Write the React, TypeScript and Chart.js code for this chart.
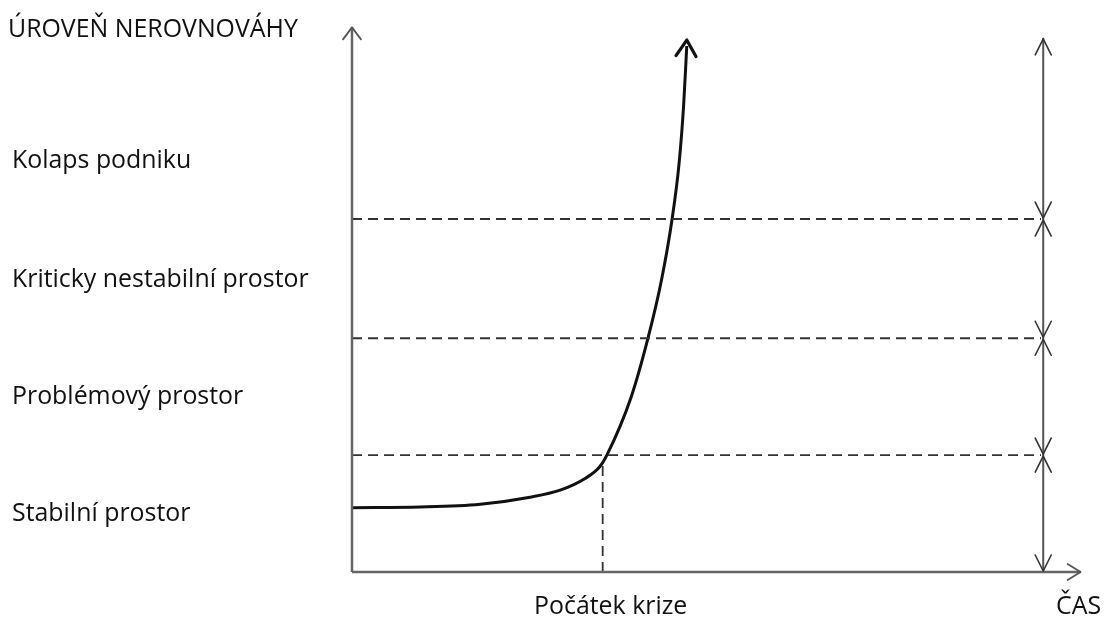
import React, { useEffect, useRef } from "react";
import { Chart, registerables } from "chart.js";
Chart.register(...registerables);

// Time (x) and imbalance level (y) of the crisis curve
const timeX = [0, 0.93, 1.75, 2.43, 2.84, 3.18, 3.38, 3.477, 3.81, 4.038, 4.223, 4.367, 4.463, 4.525, 4.567];
const imbalance = [0.55, 0.556, 0.58, 0.64, 0.7, 0.8, 0.9, 1.0, 1.5, 2.0, 2.5, 3.02, 3.5, 4.0, 4.5];

// Level thresholds (dashed lines)
const thresholds = [1, 2, 3.02];
const levelLabels = ["Stabilní prostor", "Problémový prostor", "Kriticky nestabilní prostor", "Kolaps podniku"];
const levelLabelY = [0.5, 1.5, 2.5, 3.52];
const bracketLevels = [0, 1, 2, 3.02, 4.57];

const yTitle = "ÚROVEŇ NEROVNOVÁHY";
const xTitle = "ČAS";
const crisisLabel = "Počátek krize";
const crisisX = 3.42;
const crisisY = 0.94;

const X_MAX = 10;
const Y_MAX = 4.68;
const thresholdEnd = 9.4;
const bracketX = 9.43;
const xAxisEnd = 9.94;
const yAxisEnd = 4.66;
const titleY = 4.64;

function seg(x1: number, y1: number, x2: number, y2: number) {
  return [{ x: x1, y: y1 }, { x: x2, y: y2 }];
}

function openArrow(ctx: CanvasRenderingContext2D, tx: number, ty: number, angle: number, len: number, half: number, color: string, lw: number) {
  const bx = tx - Math.cos(angle) * len;
  const by = ty - Math.sin(angle) * len;
  const px = -Math.sin(angle) * half;
  const py = Math.cos(angle) * half;
  ctx.save();
  ctx.strokeStyle = color;
  ctx.lineWidth = lw;
  ctx.lineCap = "round";
  ctx.lineJoin = "round";
  ctx.beginPath();
  ctx.moveTo(bx + px, by + py);
  ctx.lineTo(tx, ty);
  ctx.lineTo(bx - px, by - py);
  ctx.stroke();
  ctx.restore();
}

const decorPlugin = {
  id: "decor",
  afterDatasetsDraw(chart: any) {
    const ctx: CanvasRenderingContext2D = chart.ctx;
    const xs = chart.scales.x;
    const ys = chart.scales.y;
    const X = (v: number) => xs.getPixelForValue(v);
    const Y = (v: number) => ys.getPixelForValue(v);
    const axisColor = "#555";

    // axis arrows
    openArrow(ctx, X(0), Y(yAxisEnd), -Math.PI / 2, 12, 9, axisColor, 1.8);
    openArrow(ctx, X(xAxisEnd), Y(0), 0, 13, 8, axisColor, 1.8);

    // bracket arrows
    for (let i = 0; i < bracketLevels.length - 1; i++) {
      const lo = bracketLevels[i];
      const hi = bracketLevels[i + 1];
      openArrow(ctx, X(bracketX), Y(hi) + 1, -Math.PI / 2, 16, 8, "#333", 1.6);
      openArrow(ctx, X(bracketX), Y(lo) - 1, Math.PI / 2, 16, 8, "#333", 1.6);
    }

    // curve arrowhead
    const n = timeX.length;
    const tx = X(timeX[n - 1]);
    const ty = Y(imbalance[n - 1]) - 6;
    const ang = Math.atan2(ty - Y(imbalance[n - 2]), tx - X(timeX[n - 2]));
    openArrow(ctx, tx, ty, ang, 16, 10, "#111", 3.2);

    // text
    ctx.save();
    const family = "'Open Sans', 'Noto Sans', sans-serif";
    ctx.font = `100px ${family}`;
    const w100 = ctx.measureText(yTitle).width;
    const size = Math.round(((100 * 290) / w100) * 10) / 10;
    ctx.font = `${size}px ${family}`;
    ctx.fillStyle = "#111";
    ctx.textBaseline = "middle";
    ctx.textAlign = "left";
    ctx.fillText(yTitle, 8, Y(titleY));
    levelLabels.forEach((t, i) => ctx.fillText(t, 12, Y(levelLabelY[i])));
    ctx.textAlign = "center";
    ctx.fillText(crisisLabel, X(crisisX) + 8, Y(0) + 35);
    ctx.fillText(xTitle, X(xAxisEnd) - 2, Y(0) + 35);
    ctx.restore();
  },
};

export default function App() {
  const ref = useRef<HTMLCanvasElement>(null);
  useEffect(() => {
    if (!ref.current) return;
    const dashed = { borderColor: "#333", borderWidth: 1.8, borderDash: [10, 6], pointRadius: 0, clip: false as any };
    const solidAxis = { borderColor: "#666", borderWidth: 2.5, pointRadius: 0, clip: false as any };
    const bracket = { borderColor: "#555", borderWidth: 2, pointRadius: 0, clip: false as any };
    const datasets: any[] = [
      { data: seg(0, 0, 0, yAxisEnd), ...solidAxis },
      { data: seg(0, 0, xAxisEnd, 0), ...solidAxis },
      ...thresholds.map((t) => ({ data: seg(0, t, thresholdEnd, t), ...dashed })),
      { data: seg(crisisX, 0, crisisX, crisisY), ...dashed },
      { data: seg(bracketX, bracketLevels[0], bracketX, bracketLevels[bracketLevels.length - 1]), ...bracket },
      {
        data: timeX.map((x, i) => ({ x, y: imbalance[i] })),
        borderColor: "#111",
        borderWidth: 3,
        pointRadius: 0,
        cubicInterpolationMode: "monotone",
        clip: false,
      },
    ];
    const chart = new Chart(ref.current, {
      type: "line",
      data: { datasets },
      options: {
        animation: false,
        responsive: false,
        events: [],
        layout: { padding: { left: 352, right: 20, top: 25, bottom: 45 } },
        plugins: { legend: { display: false }, tooltip: { enabled: false } },
        scales: {
          x: { type: "linear", min: 0, max: X_MAX, display: false },
          y: { type: "linear", min: 0, max: Y_MAX, display: false },
        },
      },
      plugins: [decorPlugin],
    });
    return () => chart.destroy();
  }, []);
  return (
    <div style={{ position: "absolute", left: 0, top: 0, width: 1105, height: 617, background: "#fff" }}>
      <canvas ref={ref} width={1105} height={617} />
    </div>
  );
}
